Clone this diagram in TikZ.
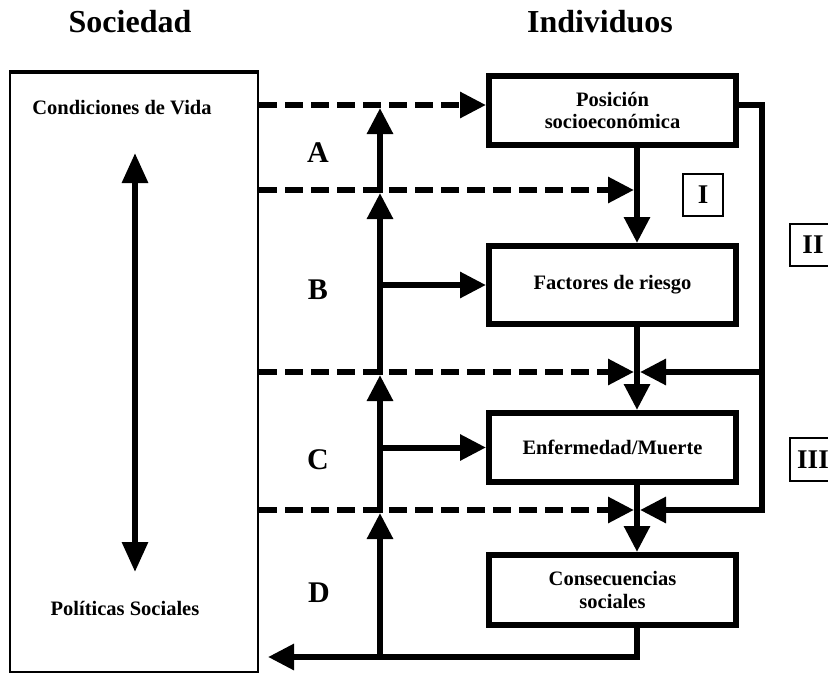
\documentclass[tikz,border=0pt]{standalone}
\usepackage{fontspec}
\setmainfont{Liberation Serif}
\usetikzlibrary{arrows.meta}
\begin{document}
\begin{tikzpicture}[x=1pt,y=-1pt,
  box/.style={draw, line width=6pt, inner sep=0pt, align=center, font=\fontsize{20.5}{22}\selectfont\bfseries},
  numbox/.style={draw, line width=2.5pt, inner sep=0pt, font=\fontsize{27}{30}\selectfont\bfseries},
  conn/.style={line width=6pt},
  tip/.style={-{Triangle[length=26pt,width=25pt]}},
  dsh/.style={line width=6pt, dash pattern=on 18pt off 8pt},
  hdr/.style={font=\fontsize{32}{36}\selectfont\bfseries},
  lbl/.style={font=\fontsize{30}{32}\selectfont\bfseries},
  txt/.style={font=\fontsize{20.5}{23}\selectfont\bfseries}]
\useasboundingbox (0,0) rectangle (828,675);
\clip (0,0) rectangle (828,675);

% headers
\node[hdr] (hsoc) at (130,22) {Sociedad};
\node[hdr] (hind) at (600,22) {Individuos};

% society box
\node[draw, line width=2pt, minimum width=248pt, minimum height=599pt, inner sep=0pt] (soc) at (134,372.5) {};
\draw[line width=4pt] (soc.north west) -- (soc.north east);
\node[txt] (cond) at (122,108) {Condiciones de Vida};
\node[txt] (pol) at (125,608) {Políticas Sociales};
\coordinate (dTop) at (135,153);
\coordinate (dBot) at (135,572);
\draw[line width=6pt, {Triangle[length=30pt,width=25pt]}-{Triangle[length=30pt,width=25pt]}] (dTop) -- (dBot);

% individual boxes
\node[box, minimum width=247pt, minimum height=69pt] (pos) at (612.5,110.5) {Posición\\socioeconómica};
\node[box, minimum width=247pt, minimum height=78pt] (fac) at (612.5,285) {Factores de riesgo};
\node[box, minimum width=247pt, minimum height=69pt] (enf) at (612.5,447.5) {Enfermedad/Muerte};
\node[box, minimum width=247pt, minimum height=70pt, font=\fontsize{20.5}{23}\selectfont\bfseries] (con) at (612.5,590) {Consecuencias\\sociales};

% roman numeral boxes
\node[numbox, minimum width=40pt, minimum height=42pt] (nI) at (703,195) {I};
\node[numbox, minimum width=46pt, minimum height=42pt] (nII) at (813,245) {II};
\node[numbox, minimum width=46pt, minimum height=43pt] (nIII) at (813,459.5) {III};

% letters
\node[lbl] (lA) at (318,153) {A};
\node[lbl] (lB) at (318,290) {B};
\node[lbl] (lC) at (318,460) {C};
\node[lbl] (lD) at (319,593) {D};

% reference coordinates
\coordinate (yA) at (0,105);
\coordinate (yB) at (0,190);
\coordinate (yC) at (0,372);
\coordinate (yD) at (0,510);
\coordinate (yE) at (0,657);
\coordinate (vx) at (380,0);
\coordinate (jx) at (637,0);
\coordinate (rx) at (762,0);
\coordinate (vE) at (380,657);
\coordinate (vD) at (380,513);
\coordinate (vC) at (380,375);
\coordinate (vB) at (380,193);
\coordinate (vA) at (380,108);
\coordinate (tB) at (634,190);
\coordinate (tC) at (634,372);
\coordinate (tD) at (634,510);
\coordinate (rC) at (640,372);
\coordinate (rD) at (640,510);
\coordinate (bEnd) at (268,657);

% dashed lines
\draw[dsh,tip] (soc.east |- yA) -- (pos.west |- yA);
\draw[dsh,tip] (soc.east |- yB) -- (tB);
\draw[dsh,tip] (soc.east |- yC) -- (tC);
\draw[dsh,tip] (soc.east |- yD) -- (tD);

% main vertical line
\draw[conn,tip] (vE) -- (vD);
\draw[conn,tip] (vD) -- (vC);
\draw[conn,tip] (vC) -- (vB);
\draw[conn,tip] (vB) -- (vA);
\draw[conn,tip] (vx |- fac.west) -- (fac.west);
\draw[conn,tip] (vx |- enf.west) -- (enf.west);

% chain of boxes
\draw[conn,tip] (jx |- pos.south) -- (jx |- fac.north);
\draw[conn,tip] (jx |- fac.south) -- (jx |- enf.north);
\draw[conn,tip] (jx |- enf.south) -- (jx |- con.north);
\draw[conn,tip] (jx |- con.south) -- (jx |- yE) -- (bEnd);

% feedback line
\draw[conn,tip] (pos.east |- yA) -- (rx |- yA) -- (rx |- yD) -- (rD);
\draw[conn,tip] (rx |- yC) -- (rC);
\end{tikzpicture}
\end{document}
